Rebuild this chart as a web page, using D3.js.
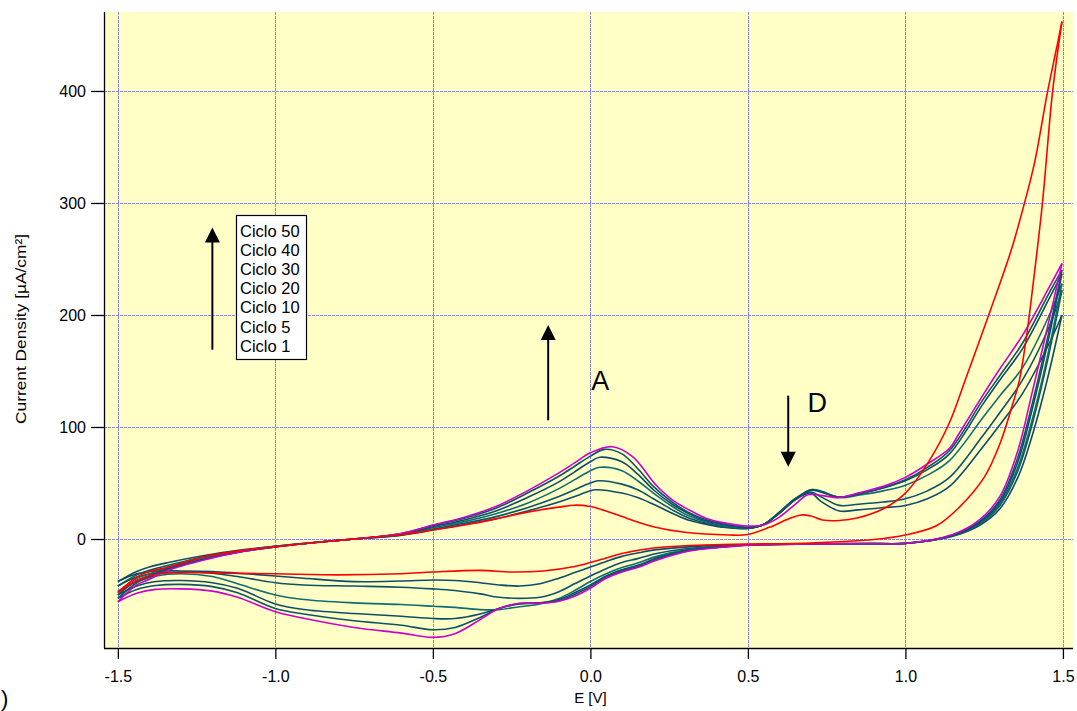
<!DOCTYPE html>
<html>
<head>
<meta charset="utf-8">
<script src="https://cdn.jsdelivr.net/npm/d3@7"></script>
<style>
  html, body { margin: 0; padding: 0; background: #ffffff; }
  svg { display: block; font-family: "Liberation Sans", Arial, sans-serif; }
</style>
</head>
<body>
<svg id="chart" width="1077" height="711"></svg>
<script>
// ---------- data (E [V], current density [µA/cm²]) ----------
const legendLabels = ["Ciclo 50", "Ciclo 40", "Ciclo 30", "Ciclo 20", "Ciclo 10", "Ciclo 5", "Ciclo 1"];
const xTicks = [-1.5, -1.0, -0.5, 0.0, 0.5, 1.0, 1.5];
const yTicks = [0, 100, 200, 300, 400];

const c1Lower = [[-1.5,-48],[-1.44,-37],[-1.38,-31.5],[-1.3,-30],[-1.15,-30.5],[-1.0,-31],[-0.8,-32],[-0.6,-31],[-0.5,-29.5],[-0.35,-28],[-0.25,-29.5],[-0.15,-28.5],[-0.05,-24.5],[0.0,-21],[0.05,-17],[0.1,-13],[0.2,-8],[0.3,-6],[0.42,-5],[0.5,-4.5],[0.7,-3.5],[0.9,-0.5],[1.0,3.5],[1.1,12],[1.17,28],[1.25,55],[1.3,85],[1.34,120],[1.362,142],[1.383,178],[1.403,222],[1.435,300],[1.467,399],[1.497,462]];
const c1Upper = [[-1.5,-48],[-1.44,-34],[-1.4,-29],[-1.334,-24.7],[-1.23,-16],[-1.1,-10],[-1.0,-7],[-0.85,-2.5],[-0.75,0],[-0.6,4],[-0.5,8],[-0.4,12.5],[-0.3,18],[-0.2,24],[-0.1,28.5],[-0.05,30.2],[0.0,29],[0.05,25],[0.1,20],[0.2,11],[0.3,6],[0.44,3.6],[0.5,4],[0.568,10.4],[0.63,18],[0.67,21.5],[0.7,20.5],[0.737,17],[0.79,16.5],[0.85,19],[0.93,27],[1.0,41],[1.076,70],[1.14,104],[1.19,142],[1.267,202],[1.336,258],[1.378,300],[1.41,336],[1.451,399],[1.479,437],[1.497,462]];

const c5Lower = [[-1.5,-38],[-1.44,-31],[-1.38,-28.5],[-1.3,-28.5],[-1.2,-29],[-1.12,-30.5],[-1.0,-33],[-0.91,-35],[-0.75,-38],[-0.6,-37.5],[-0.5,-36.6],[-0.43,-37],[-0.35,-39],[-0.29,-41],[-0.225,-42],[-0.16,-40],[-0.1,-35],[-0.05,-30],[0.0,-25],[0.05,-20],[0.1,-15.5],[0.15,-12.5],[0.21,-9.5],[0.31,-7],[0.42,-5.5],[0.5,-5],[0.7,-4.3],[0.9,-4],[1.0,-3.8],[1.15,2.5],[1.235,12],[1.3,27],[1.357,55],[1.4,90],[1.45,142],[1.497,200]];
const c5Upper = [[-1.5,-38],[-1.44,-29],[-1.4,-25],[-1.34,-21],[-1.23,-15],[-1.1,-9.5],[-1.0,-6.5],[-0.85,-2.5],[-0.75,0],[-0.6,3.5],[-0.5,8],[-0.4,13],[-0.3,18],[-0.2,25],[-0.1,33],[-0.05,38],[0.0,43],[0.015,44],[0.1,41],[0.15,37],[0.2,31],[0.26,23],[0.31,17],[0.37,13],[0.42,10.5],[0.5,9.5],[0.55,13],[0.6,23],[0.65,35],[0.7,41],[0.73,34],[0.79,25],[0.85,26],[0.93,28],[1.0,30],[1.07,36],[1.14,47],[1.245,82],[1.3,102],[1.372,130],[1.457,175],[1.497,200]];

const c10Lower = [[-1.5,-42],[-1.44,-34],[-1.38,-30.5],[-1.3,-29.5],[-1.2,-30.5],[-1.12,-33.5],[-1.0,-39],[-0.91,-41],[-0.75,-42],[-0.6,-43],[-0.5,-44.5],[-0.43,-46],[-0.35,-49],[-0.29,-52],[-0.225,-53],[-0.16,-52],[-0.1,-47],[-0.05,-40],[0.0,-33],[0.05,-26.5],[0.1,-21],[0.15,-17.5],[0.21,-13],[0.31,-8.5],[0.42,-6.2],[0.5,-5.2],[0.7,-4.3],[0.9,-4],[1.0,-3.8],[1.15,2.8],[1.235,13],[1.3,30],[1.357,61],[1.4,100],[1.45,158],[1.497,222]];
const c10Upper = [[-1.5,-42],[-1.44,-32],[-1.4,-28],[-1.34,-23.5],[-1.23,-16],[-1.1,-10],[-1.0,-6.5],[-0.85,-2.5],[-0.75,0],[-0.6,3.5],[-0.5,9],[-0.4,14],[-0.3,20],[-0.2,28],[-0.1,38],[-0.05,44],[0.0,50],[0.025,52],[0.1,49],[0.15,44],[0.2,36],[0.26,26],[0.31,19],[0.37,14],[0.42,11],[0.5,9.5],[0.55,13],[0.6,24],[0.65,36],[0.7,42],[0.73,38],[0.79,30],[0.85,31],[0.93,33],[1.0,36],[1.07,43],[1.14,55],[1.245,92],[1.3,113],[1.372,142],[1.457,190],[1.497,222]];

const c20Lower = [[-1.5,-47],[-1.44,-38],[-1.38,-33],[-1.3,-31],[-1.2,-33.5],[-1.12,-40],[-1.0,-50],[-0.91,-54],[-0.75,-57],[-0.6,-58.5],[-0.5,-60],[-0.43,-61],[-0.35,-63],[-0.29,-63],[-0.225,-60.5],[-0.16,-58],[-0.1,-53],[-0.05,-46],[0.0,-38],[0.05,-31],[0.1,-25.5],[0.15,-21.5],[0.21,-15.5],[0.31,-9.5],[0.42,-6.7],[0.5,-5.3],[0.7,-4.4],[0.9,-4.1],[1.0,-3.9],[1.15,3],[1.235,13.5],[1.3,31],[1.357,64],[1.4,104],[1.45,162],[1.497,228]];
const c20Upper = [[-1.5,-47],[-1.44,-35],[-1.4,-31],[-1.34,-25],[-1.23,-17],[-1.1,-10.5],[-1.0,-6.5],[-0.85,-2.5],[-0.75,0],[-0.6,4],[-0.5,10],[-0.4,15.5],[-0.3,22.5],[-0.2,32],[-0.1,45],[-0.05,53],[0.0,61],[0.03,64],[0.1,61],[0.15,52],[0.2,41],[0.26,29],[0.31,21],[0.37,15],[0.42,12],[0.5,10],[0.55,13],[0.6,24],[0.65,36],[0.7,44],[0.73,43],[0.79,37],[0.85,39],[0.93,43],[1.0,48],[1.07,57],[1.14,70],[1.245,108],[1.3,128],[1.372,153],[1.457,200],[1.497,228]];

const c30Lower = [[-1.5,-50],[-1.44,-42],[-1.38,-38],[-1.3,-37],[-1.2,-39],[-1.12,-44],[-1.0,-58],[-0.91,-63],[-0.75,-66.5],[-0.6,-69],[-0.5,-71],[-0.43,-71],[-0.35,-67],[-0.29,-62],[-0.225,-58],[-0.16,-57],[-0.1,-54],[-0.05,-48],[0.0,-41],[0.05,-33],[0.1,-27.5],[0.15,-23.5],[0.21,-17],[0.31,-10],[0.42,-7],[0.5,-5.4],[0.7,-4.4],[0.9,-4.1],[1.0,-4],[1.15,3.3],[1.235,14.5],[1.3,33],[1.357,69],[1.4,113],[1.45,173],[1.497,237]];
const c30Upper = [[-1.5,-50],[-1.44,-37],[-1.4,-33],[-1.34,-26],[-1.23,-18],[-1.1,-11],[-1.0,-7],[-0.85,-2.5],[-0.75,0],[-0.6,4.5],[-0.5,11],[-0.4,17],[-0.3,25],[-0.2,37],[-0.1,51],[-0.05,60],[0.0,69],[0.03,73],[0.1,69],[0.15,58],[0.2,44],[0.26,31],[0.31,23],[0.37,16],[0.42,13],[0.5,10],[0.55,13],[0.6,23.5],[0.65,35.5],[0.7,44],[0.73,42.5],[0.79,37.5],[0.85,40],[0.93,45.5],[1.0,52],[1.07,62],[1.14,76],[1.245,120],[1.3,142],[1.372,170],[1.457,215],[1.497,237]];

const c40Lower = [[-1.5,-53],[-1.44,-45],[-1.38,-41.5],[-1.3,-40.5],[-1.2,-42.5],[-1.12,-48],[-1.0,-62],[-0.91,-67],[-0.75,-73],[-0.6,-77],[-0.5,-81],[-0.43,-79],[-0.35,-70],[-0.29,-62],[-0.225,-57.5],[-0.16,-57],[-0.1,-55],[-0.05,-49.5],[0.0,-42.5],[0.05,-34],[0.1,-28.5],[0.15,-24.5],[0.21,-18],[0.31,-10.5],[0.42,-7.2],[0.5,-5.5],[0.7,-4.5],[0.9,-4.2],[1.0,-4],[1.15,3.6],[1.235,15.5],[1.3,35],[1.357,73],[1.4,118],[1.45,178],[1.497,240]];
const c40Upper = [[-1.5,-53],[-1.44,-39],[-1.4,-34],[-1.34,-27],[-1.23,-18.5],[-1.1,-11],[-1.0,-7],[-0.85,-2.5],[-0.75,0],[-0.6,5],[-0.5,12],[-0.4,18.5],[-0.3,27.5],[-0.2,41],[-0.1,56],[-0.05,65],[0.0,74],[0.045,80],[0.1,76],[0.15,63],[0.2,47],[0.26,33],[0.31,24],[0.37,17],[0.42,13.5],[0.5,10.5],[0.55,13],[0.6,23],[0.65,35],[0.7,43.5],[0.73,42],[0.79,37.5],[0.85,40.5],[0.93,46],[1.0,53],[1.07,64],[1.14,79],[1.245,124],[1.3,146],[1.372,175],[1.457,220],[1.497,240]];

const c50Lower = [[-1.5,-56],[-1.44,-48.5],[-1.38,-45],[-1.3,-44.5],[-1.2,-46.5],[-1.12,-52],[-1.0,-65],[-0.91,-70.8],[-0.75,-79],[-0.6,-84],[-0.5,-87.8],[-0.43,-84.5],[-0.35,-72],[-0.29,-62],[-0.225,-57.4],[-0.16,-57.4],[-0.1,-55.5],[-0.05,-51],[0.0,-44],[0.05,-35],[0.1,-29.5],[0.15,-25.5],[0.21,-19],[0.31,-11],[0.42,-7.4],[0.5,-5.5],[0.7,-4.5],[0.9,-4.2],[1.0,-4],[1.15,4],[1.235,17],[1.3,38],[1.357,79],[1.4,128],[1.45,188],[1.497,246]];
const c50Upper = [[-1.5,-56],[-1.44,-41],[-1.4,-36],[-1.34,-28],[-1.23,-19],[-1.1,-11],[-1.0,-7],[-0.85,-2.5],[-0.75,0],[-0.6,5],[-0.5,12.5],[-0.4,19.5],[-0.3,29],[-0.2,43],[-0.1,59],[-0.05,68],[0.0,77],[0.07,82.4],[0.134,73.5],[0.208,48.2],[0.261,34.8],[0.314,25.9],[0.367,18.5],[0.42,14.6],[0.494,11.6],[0.55,12.5],[0.6,19.5],[0.65,31],[0.69,39.5],[0.73,39],[0.79,37],[0.85,41],[0.93,47],[1.0,55],[1.07,67],[1.14,81],[1.17,94],[1.245,128],[1.3,152],[1.372,182],[1.457,225],[1.497,246]];

// drawing order: teal cycles first, then magenta, then red
const series = [
  { name: "Ciclo 5",  color: "#0d4d6b", branches: [c5Lower,  c5Upper] },
  { name: "Ciclo 10", color: "#0b536a", branches: [c10Lower, c10Upper] },
  { name: "Ciclo 20", color: "#0f6d72", branches: [c20Lower, c20Upper] },
  { name: "Ciclo 30", color: "#0d4d6b", branches: [c30Lower, c30Upper] },
  { name: "Ciclo 40", color: "#0b536a", branches: [c40Lower, c40Upper] },
  { name: "Ciclo 50", color: "#cc00cc", branches: [c50Lower, c50Upper] },
  { name: "Ciclo 1",  color: "#ff0000", branches: [c1Lower,  c1Upper] }
];

// ---------- layout ----------
const svg = d3.select("#chart");
const L = 104, R = 1073, T = 12, B = 648;
const x = d3.scaleLinear().domain([-1.544, 1.532]).range([L, R]);
const y = d3.scaleLinear().domain([-97.3, 470.5]).range([B, T]);

svg.append("rect").attr("x", L).attr("y", T).attr("width", R - L).attr("height", B - T)
   .attr("fill", "#ffffc6");

// grid
const grid = svg.append("g").attr("stroke", "#8484ff").attr("stroke-width", 1)
  .attr("stroke-dasharray", "3,1");
grid.selectAll(".gx").data(xTicks).join("line")
  .attr("x1", d => Math.round(x(d)) + 0.5).attr("x2", d => Math.round(x(d)) + 0.5)
  .attr("y1", T).attr("y2", B);
grid.selectAll(".gy").data(yTicks).join("line")
  .attr("y1", d => Math.round(y(d)) + 0.5).attr("y2", d => Math.round(y(d)) + 0.5)
  .attr("x1", L).attr("x2", R);

// curves
const line = d3.line().x(d => x(d[0])).y(d => y(d[1])).curve(d3.curveCatmullRom.alpha(0.5));
const curves = svg.append("g").attr("fill", "none").attr("stroke-width", 1.6)
  .attr("stroke-linejoin", "round");
series.forEach(s => {
  s.branches.forEach(b => {
    curves.append("path").attr("d", line(b)).attr("stroke", s.color);
  });
});

// axes
const xAxis = d3.axisBottom(x).tickValues(xTicks).tickSize(11).tickPadding(12)
  .tickFormat(d3.format(".1f"));
const gx = svg.append("g").attr("transform", `translate(0,${B})`).call(xAxis);
gx.select(".domain").attr("d", `M${L},0.5H${R}`);
const yAxis = d3.axisLeft(y).tickValues(yTicks).tickSize(13).tickPadding(5);
const gy = svg.append("g").attr("transform", `translate(${L},0)`).call(yAxis);
gy.select(".domain").attr("d", `M0.5,${T}V${B}`);
[gx, gy].forEach(g => {
  g.selectAll("text").attr("font-size", 16).attr("fill", "#000")
    .attr("font-family", '"Liberation Sans", Arial, sans-serif');
  g.selectAll("line, path").attr("stroke", "#000").attr("stroke-width", 1.3);
});
gx.selectAll("text").text(d => d3.format(".1f")(d).replace("−", "-"));

// axis titles
svg.append("text").attr("x", x(0)).attr("y", 703).attr("text-anchor", "middle")
  .attr("font-size", 15).text("E [V]");
svg.append("text").attr("transform", `translate(26,329) rotate(-90)`)
  .attr("text-anchor", "middle").attr("font-size", 15.5)
  .attr("textLength", 190).attr("lengthAdjust", "spacingAndGlyphs")
  .text("Current Density [µA/cm²]");
svg.append("text").attr("x", 1).attr("y", 706).attr("font-size", 22).text(")");

// legend
const lg = svg.append("g");
lg.append("rect").attr("x", 236.5).attr("y", 215.5).attr("width", 70).attr("height", 144)
  .attr("fill", "#ffffff").attr("stroke", "#000").attr("stroke-width", 1.2);
lg.selectAll("text").data(legendLabels).join("text")
  .attr("x", 240).attr("y", (d, i) => 236.5 + i * 19.2)
  .attr("font-size", 16.5).text(d => d);

// arrows and peak labels
function arrow(px, y0, y1) {
  const dir = y1 < y0 ? 1 : -1; // 1 = pointing up
  svg.append("line").attr("x1", px).attr("x2", px).attr("y1", y0).attr("y2", y1 + dir * 12)
    .attr("stroke", "#000").attr("stroke-width", 2);
  svg.append("path").attr("d", `M${px},${y1} L${px - 7.5},${y1 + dir * 15} L${px + 7.5},${y1 + dir * 15} Z`)
    .attr("fill", "#000");
}
arrow(x(-1.2), y(169), y(278));
arrow(x(-0.134), y(106), y(191));
arrow(x(0.628), y(128), y(64.6));
svg.append("text").attr("x", x(0.003)).attr("y", y(133)).attr("font-size", 27).text("A");
svg.append("text").attr("x", x(0.689)).attr("y", y(113.4)).attr("font-size", 27).text("D");
</script>
</body>
</html>
